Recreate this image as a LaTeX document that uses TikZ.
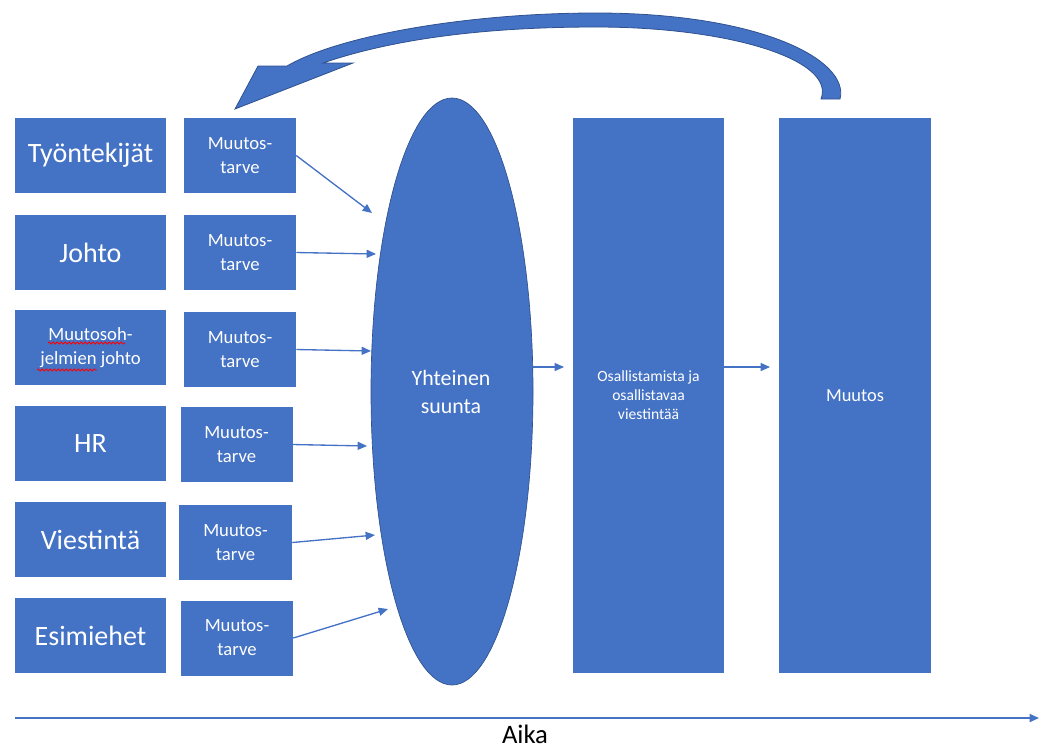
\documentclass[tikz,border=0pt]{standalone}
\usepackage{fontspec}
\setmainfont{Carlito}
\usetikzlibrary{arrows.meta,shapes.geometric,decorations.pathmorphing}
\definecolor{obl}{HTML}{4472C4}
\definecolor{obd}{HTML}{2F528F}
\tikzset{
  blk/.style={fill=obl, draw=none, text=white, align=center, inner sep=0pt},
  bigbox/.style={blk, minimum width=113.25pt, minimum height=56.25pt, font=\fontsize{21}{25}\selectfont},
  tarve/.style={blk, minimum width=84pt, minimum height=56.25pt, font=\fontsize{14}{18}\selectfont},
  conn/.style={draw=obl, line width=1pt, -{Triangle[length=7pt,width=6pt]}},
  spell/.style={draw=red, line width=0.6pt, decorate, decoration={snake, amplitude=0.8pt, segment length=3pt}}
}
\begin{document}
\begin{tikzpicture}[x=0.75pt, y=-0.75pt]
\useasboundingbox (0,0) rectangle (1048,751);

% left column
\node[bigbox] (ty) at (90.5,155.5) {Työntekijät};
\node[bigbox] (jo) at (90.5,252.5) {Johto};
\node[bigbox, font=\fontsize{14}{17.5}\selectfont] (mj) at (90.5,347.5) {Muutosoh-\\jelmien johto};
\node[bigbox] (hr) at (90.5,443.5) {HR};
\node[bigbox] (vi) at (90.5,539.5) {Viestintä};
\node[bigbox] (es) at (90.5,635.5) {Esimiehet};

% spell-check underlines
\coordinate (sp1a) at (48,343); \coordinate (sp1b) at (125,343);
\coordinate (sp2a) at (37,370); \coordinate (sp2b) at (97,370);
\draw[spell] (sp1a) -- (sp1b);
\draw[spell] (sp2a) -- (sp2b);

% Muutostarve boxes
\node[tarve] (t1) at (240,155.5) {Muutos-\\tarve};
\node[tarve] (t2) at (240,252.5) {Muutos-\\tarve};
\node[tarve] (t3) at (240,349.5) {Muutos-\\tarve};
\node[tarve] (t4) at (236.5,444.5) {Muutos-\\tarve};
\node[tarve, minimum width=84.75pt] (t5) at (235.5,542.5) {Muutos-\\tarve};
\node[tarve] (t6) at (237,638) {Muutos-\\tarve};

% ellipse
\node[blk, ellipse, minimum width=121.5pt, minimum height=440.25pt, draw=obd, line width=0.5pt] (ell) at (452,391.5) {};
\node[text=white, align=center, font=\fontsize{16.4}{21}\selectfont] (yh) at (451,392) {Yhteinen\\suunta};

% right boxes
\node[blk, minimum width=113.25pt, minimum height=416.25pt, font=\fontsize{11.7}{14.3}\selectfont] (osa) at (648.5,395.5) {Osallistamista ja\\osallistavaa\\viestintää};
\node[blk, minimum width=114pt, minimum height=416.25pt, font=\fontsize{13.8}{17}\selectfont] (mu) at (855,395.5) {Muutos};

% arrows into ellipse
\coordinate (e1) at (372,213);
\coordinate (e2) at (376,254);
\coordinate (e3) at (371,351);
\coordinate (e4) at (367,446);
\coordinate (e5) at (375,535);
\coordinate (e6) at (388,609);
\draw[conn] (t1.east) -- (e1);
\draw[conn] (t2.east) -- (e2);
\draw[conn] (t3.east) -- (e3);
\draw[conn] (t4.east) -- (e4);
\draw[conn] (t5.east) -- (e5);
\draw[conn] (t6.east) -- (e6);

% arrows to the right
\coordinate (osain) at (564,367);
\coordinate (muin) at (770,367);
\draw[conn] (ell.east |- osain) -- (osain);
\draw[conn] (osa.east |- muin) -- (muin);

% curved feedback arrow
\filldraw[fill=obl, draw=obd, line width=0.6pt]
  (840,99) .. controls (850,60) and (760,13) .. (596,13)
  .. controls (470,13) and (340,35) .. (287,66)
  -- (258,66) -- (235,109) -- (353,63) -- (323,63)
  .. controls (390,40) and (480,27) .. (596,27)
  .. controls (730,27) and (836,60) .. (821,99) -- cycle;

% time axis
\coordinate (axl) at (15,718);
\coordinate (axr) at (1039,718);
\draw[draw=obl, line width=1.2pt, -{Triangle[length=7pt,width=6pt]}] (axl) -- (axr);
\node[font=\fontsize{20}{24}\selectfont, text=black, inner sep=0pt] (aika) at (525,734) {Aika};
\end{tikzpicture}
\end{document}
